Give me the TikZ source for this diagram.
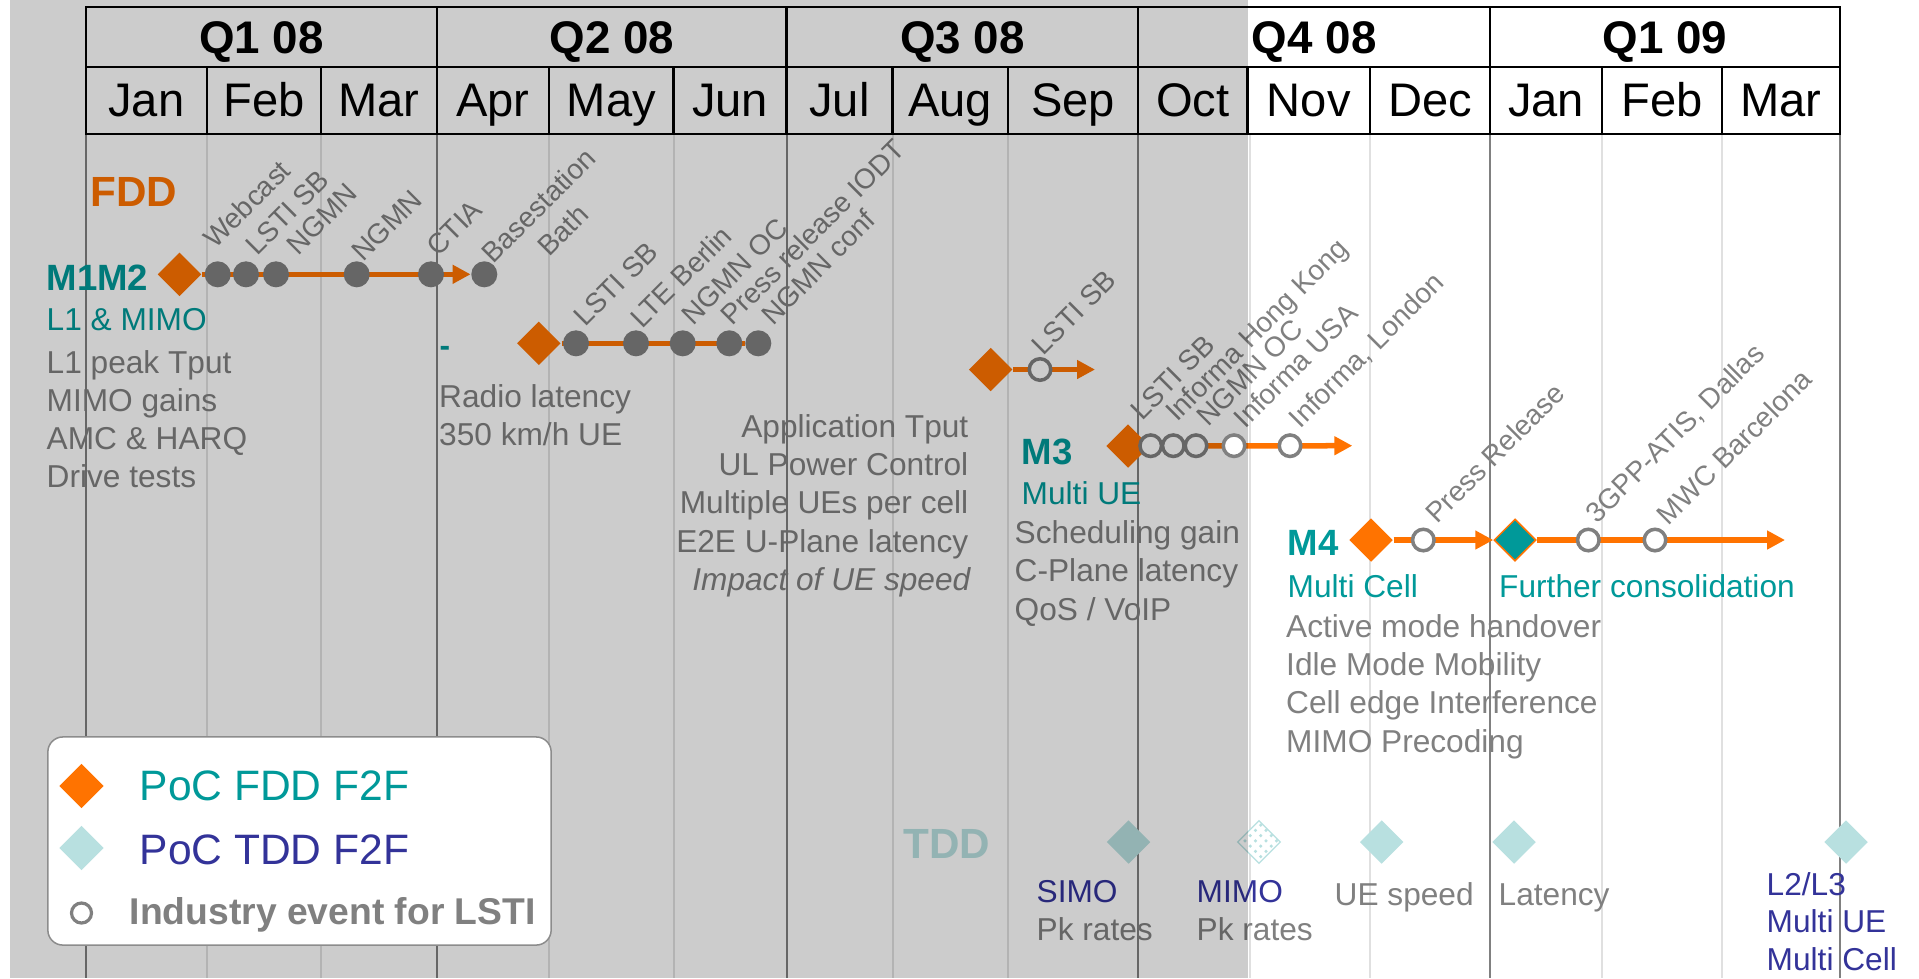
\documentclass[tikz,border=0pt]{standalone}
\usepackage{fontspec}
\setmainfont{Liberation Sans}
\usetikzlibrary{shapes.geometric,arrows.meta,patterns}
\pgfdeclarelayer{bg}
\pgfdeclarelayer{fg}
\pgfdeclarelayer{top}
\pgfsetlayers{bg,main,fg,top}
\definecolor{evgrey}{HTML}{808080}
\definecolor{fddor}{HTML}{FF7300}
\definecolor{tealc}{HTML}{009999}
\definecolor{tddlt}{HTML}{B8E0E0}
\definecolor{navyc}{HTML}{333399}
\definecolor{mline}{HTML}{E0E0E0}
\definecolor{qline}{HTML}{808080}
\definecolor{legbd}{HTML}{8C8C8C}
\newcommand\fsz[2]{\fontsize{#1}{#2}\selectfont}
\begin{document}
\begin{tikzpicture}[x=0.01cm,y=-0.01cm,
  bodytxt/.style={font=\fsz{9}{10.8}, text=evgrey, inner sep=0, anchor=base west},
  lbl/.style={font=\fsz{8}{9.6}, text=evgrey, inner sep=0, anchor=base west, rotate=45},
  mhead/.style={font=\bfseries\fsz{10.4}{12.5}, text=tealc, inner sep=0, anchor=base west},
  msub/.style={font=\fsz{9}{10.8}, text=tealc, inner sep=0, anchor=base west},
  navytxt/.style={font=\fsz{9}{10.8}, text=navyc, inner sep=0, anchor=base west},
  fddia/.style={diamond, fill=fddor, inner sep=0, minimum width=0.44cm, minimum height=0.44cm},
  tdddia/.style={diamond, fill=tddlt, inner sep=0, minimum width=0.44cm, minimum height=0.44cm},
  evdot/.style={circle, fill=evgrey, inner sep=0, minimum size=0.26cm},
  evring/.style={circle, draw=evgrey, line width=0.035cm, fill=white, inner sep=0, minimum size=0.215cm},
  conn/.style={draw=fddor, line width=0.055cm},
  arrowend/.style={-{Triangle[length=0.18cm,width=0.18cm]}},
  qtxt/.style={font=\bfseries\fsz{13}{15}, inner sep=0, anchor=base},
  mtxt/.style={font=\fsz{13.4}{16}, inner sep=0, anchor=base}]
\useasboundingbox (0,0) rectangle (1919,978);

% ---------- background and grid ----------
\begin{pgfonlayer}{bg}
\fill[white] (0,0) rectangle (1919,978);
\foreach \x in {207,321,549,673.5,892.5,1008,1249.5,1370,1602,1722}
  \draw[mline, line width=0.02cm] (\x,134) -- (\x,978);
\foreach \x in {85.7,437,786.5,1138.3,1490,1840}
  \draw[qline, line width=0.02cm] (\x,134) -- (\x,978);
\end{pgfonlayer}

% ---------- header table ----------
\draw[line width=0.022cm] (85.7,7) rectangle (1840,134);
\draw[line width=0.022cm] (85.7,67) -- (1840,67);
\foreach \x in {437,786.5,1138.3,1490}
  \draw[line width=0.022cm] (\x,7) -- (\x,134);
\foreach \x in {207,321,549,673.5,892.5,1008,1247.5,1370,1602,1722}
  \draw[line width=0.022cm] (\x,67) -- (\x,134);
\node[qtxt] (q1) at (261.4,53) {Q1 08};
\node[qtxt] (q2) at (611.8,53) {Q2 08};
\node[qtxt] (q3) at (962.4,53) {Q3 08};
\node[qtxt] (q4) at (1314.2,53) {Q4 08};
\node[qtxt] (q5) at (1665,53) {Q1 09};
\foreach \a/\b/\m [count=\i] in {85.7/207/Jan,207/321/Feb,321/437/Mar,437/549/Apr,549/673.5/May,673.5/786.5/Jun,786.5/892.5/Jul,892.5/1008/Aug,1008/1138.3/Sep,1138.3/1247.5/Oct,1247.5/1370/Nov,1370/1490/Dec,1490/1602/Jan,1602/1722/Feb,1722/1840/Mar}
  \node[mtxt] (mo\i) at ({(\a+\b)/2},116) {\m};

% ---------- FDD ----------
\node[font=\bfseries\fsz{12}{14}, text=fddor, inner sep=0, anchor=base west] (fdd) at (90,206) {FDD};

% M1M2 row
\node[mhead] (m1m2) at (46,290) {M1M2};
\node[msub] (m1sub) at (46,330) {L1 \& MIMO};
\node[bodytxt] (m1a) at (46,373) {L1 peak Tput};
\node[bodytxt] (m1b) at (46,411) {MIMO gains};
\node[bodytxt] (m1c) at (46,449) {AMC \& HARQ};
\node[bodytxt] (m1d) at (46,487) {Drive tests};
\node[fddia] (dA) at (179.5,274.3) {};
\foreach \x [count=\i] in {217.7,246,276,356.7,431,484.3}
  \node[evdot] (a\i) at (\x,274.3) {};
\node[lbl] (la1) at (215,250) {Webcast};
\node[lbl] (la2) at (256.7,256.7) {LSTI SB};
\node[lbl] (la3) at (298,256.7) {NGMN};
\node[lbl] (la4) at (363,263) {NGMN};
\node[lbl] (la5) at (438,258) {CTIA};
\node[lbl] (la6) at (493,265) {Basestation};
\node[lbl] (la7) at (548.7,258) {Bath};

% Radio latency row
\node[font=\bfseries\fsz{9}{10.8}, text=tealc, inner sep=0, anchor=base west] (m2dash) at (439,356) {-};
\node[bodytxt] (m2a) at (438.5,407) {Radio latency};
\node[bodytxt] (m2b) at (438.5,445) {350 km/h UE};
\node[fddia] (dB) at (538.8,343.3) {};
\foreach \x [count=\i] in {576,636,682.7,729.3,758.3}
  \node[evdot] (b\i) at (\x,343.3) {};
\node[lbl] (lb1) at (585,328.3) {LSTI SB};
\node[lbl] (lb2) at (641.7,330) {LTE Berlin};
\node[lbl] (lb3) at (693,326.7) {NGMN OC};
\node[lbl] (lb4) at (731.7,326.7) {Press release IODT};
\node[lbl] (lb5) at (773,326.7) {NGMN conf};

% Application row
\node[bodytxt, anchor=base east] (r1) at (969,437) {Application Tput};
\node[bodytxt, anchor=base east] (r2) at (969,475) {UL Power Control};
\node[bodytxt, anchor=base east] (r3) at (969,513) {Multiple UEs per cell};
\node[bodytxt, anchor=base east] (r4) at (969,552) {E2E U-Plane latency};
\node[bodytxt, anchor=base east, font=\itshape\fsz{9}{10.8}] (r5) at (971,590) {Impact of UE speed};
\node[fddia] (dC) at (990.7,369.5) {};
\node[evring] (c1) at (1040,369.5) {};
\coordinate (cend) at (1095,369.5);
\node[lbl] (lc1) at (1043.3,356.7) {LSTI SB};

% M3 row
\node[mhead] (m3) at (1021,464) {M3};
\node[msub] (m3sub) at (1021,504) {Multi UE};
\node[bodytxt] (m3a) at (1014,543) {Scheduling gain};
\node[bodytxt] (m3b) at (1014,581) {C-Plane latency};
\node[bodytxt] (m3c) at (1014,620) {QoS / VoIP};
\node[fddia] (dM3) at (1128,446) {};
\node[evring] (d1) at (1150.7,445.7) {};
\node[evring] (d2) at (1173.3,445.7) {};
\node[evring] (d3) at (1196,445.7) {};
\node[evring] (d5) at (1290,445.7) {};
\coordinate (dend) at (1352.3,445.7);
\node[lbl] (ld1) at (1141.7,421.7) {LSTI SB};
\node[lbl] (ld2) at (1176.7,423.3) {Informa Hong Kong};
\node[lbl] (ld3) at (1208,428) {NGMN OC};
\node[lbl] (ld4) at (1245,430) {Informa USA};
\node[lbl] (ld5) at (1300,430) {Informa, London};

% M4 row
\node[mhead] (m4) at (1287,555) {M4};
\node[msub] (m4sub) at (1287,597) {Multi Cell};
\node[msub] (m5sub) at (1498.5,597) {Further consolidation};
\node[bodytxt] (m4a) at (1285.5,637) {Active mode handover};
\node[bodytxt] (m4b) at (1285.5,675) {Idle Mode Mobility};
\node[bodytxt] (m4c) at (1285.5,713) {Cell edge Interference};
\node[bodytxt] (m4d) at (1285.5,752) {MIMO Precoding};
\node[fddia] (dM4) at (1371,540) {};
\node[evring] (e1) at (1423.3,540) {};
\node[diamond, fill=tealc, draw=fddor, line width=0.015cm, inner sep=0, minimum width=0.42cm, minimum height=0.42cm] (dT) at (1515,540) {};
\node[evring] (e2) at (1588.3,540) {};
\node[evring] (e3) at (1655,540) {};
\coordinate (eend) at (1785,540);
\node[lbl] (le1) at (1436.7,525) {Press Release};
\node[lbl] (le2) at (1596.7,525) {3GPP-ATIS, Dallas};
\node[lbl] (le3) at (1668.3,526.7) {MWC Barcelona};

% ---------- TDD ----------
\node[font=\bfseries\fsz{12}{14}, text=tddlt, inner sep=0, anchor=base west] (tdd) at (903,858) {TDD};
\node[tdddia] (t1) at (1128.5,842) {};
\node[diamond, draw=tddlt, line width=0.012cm, fill=white, postaction={pattern=crosshatch dots, pattern color=tddlt}, inner sep=0, minimum width=0.43cm, minimum height=0.43cm] (t2) at (1259,842) {};
\node[tdddia] (t3) at (1381.7,842) {};
\node[tdddia] (t4) at (1514,842) {};
\node[tdddia] (t5) at (1846,842) {};
\node[navytxt] (t1a) at (1036,902) {SIMO};
\node[bodytxt] (t1b) at (1036,940) {Pk rates};
\node[navytxt] (t2a) at (1196,902) {MIMO};
\node[bodytxt] (t2b) at (1196,940) {Pk rates};
\node[bodytxt] (t3a) at (1334,905) {UE speed};
\node[bodytxt] (t4a) at (1498,905) {Latency};
\node[navytxt] (t5a) at (1766,895) {L2/L3};
\node[navytxt] (t5b) at (1766,932) {Multi UE};
\node[navytxt] (t5c) at (1766,970) {Multi Cell};

% ---------- top layer: legend and ring above the shading ----------
\begin{pgfonlayer}{top}
\node[evring] (d4) at (1234,445.7) {};
\node[draw=legbd, line width=0.015cm, fill=white, rounded corners=0.15cm, minimum width=5.03cm, minimum height=2.08cm, inner sep=0] (legend) at (299.5,841) {};
\node[fddia, minimum width=0.45cm, minimum height=0.45cm] (lg1) at (81.5,786) {};
\node[font=\fsz{12.1}{14.5}, text=tealc, inner sep=0, anchor=base west] (lg1t) at (139,800) {PoC FDD F2F};
\node[tdddia, minimum width=0.45cm, minimum height=0.45cm] (lg2) at (81.5,848) {};
\node[font=\fsz{12.1}{14.5}, text=navyc, inner sep=0, anchor=base west] (lg2t) at (139,864) {PoC TDD F2F};
\node[evring, minimum size=0.2cm, line width=0.032cm] (lg3) at (81.5,913) {};
\node[font=\bfseries\fsz{10.6}{13}, text=evgrey, inner sep=0, anchor=base west] (lg3t) at (129,924) {Industry event for LSTI};
\end{pgfonlayer}

% ---------- connectors ----------
\begin{pgfonlayer}{bg}
\draw[conn, arrowend] (dA) -- (a6);
\draw[conn] (dB) -- (b5);
\draw[conn, arrowend] (dC) -- (cend);
\draw[conn, arrowend] (dM3) -- (dend);
\draw[conn, arrowend] (dM4) -- (dT);
\draw[conn, arrowend] (dT) -- (eend);
\end{pgfonlayer}

% ---------- grey shading (past period) ----------
\begin{pgfonlayer}{fg}
\fill[black, opacity=0.2] (10,0) rectangle (1247.5,978);
\end{pgfonlayer}
\end{tikzpicture}
\end{document}
